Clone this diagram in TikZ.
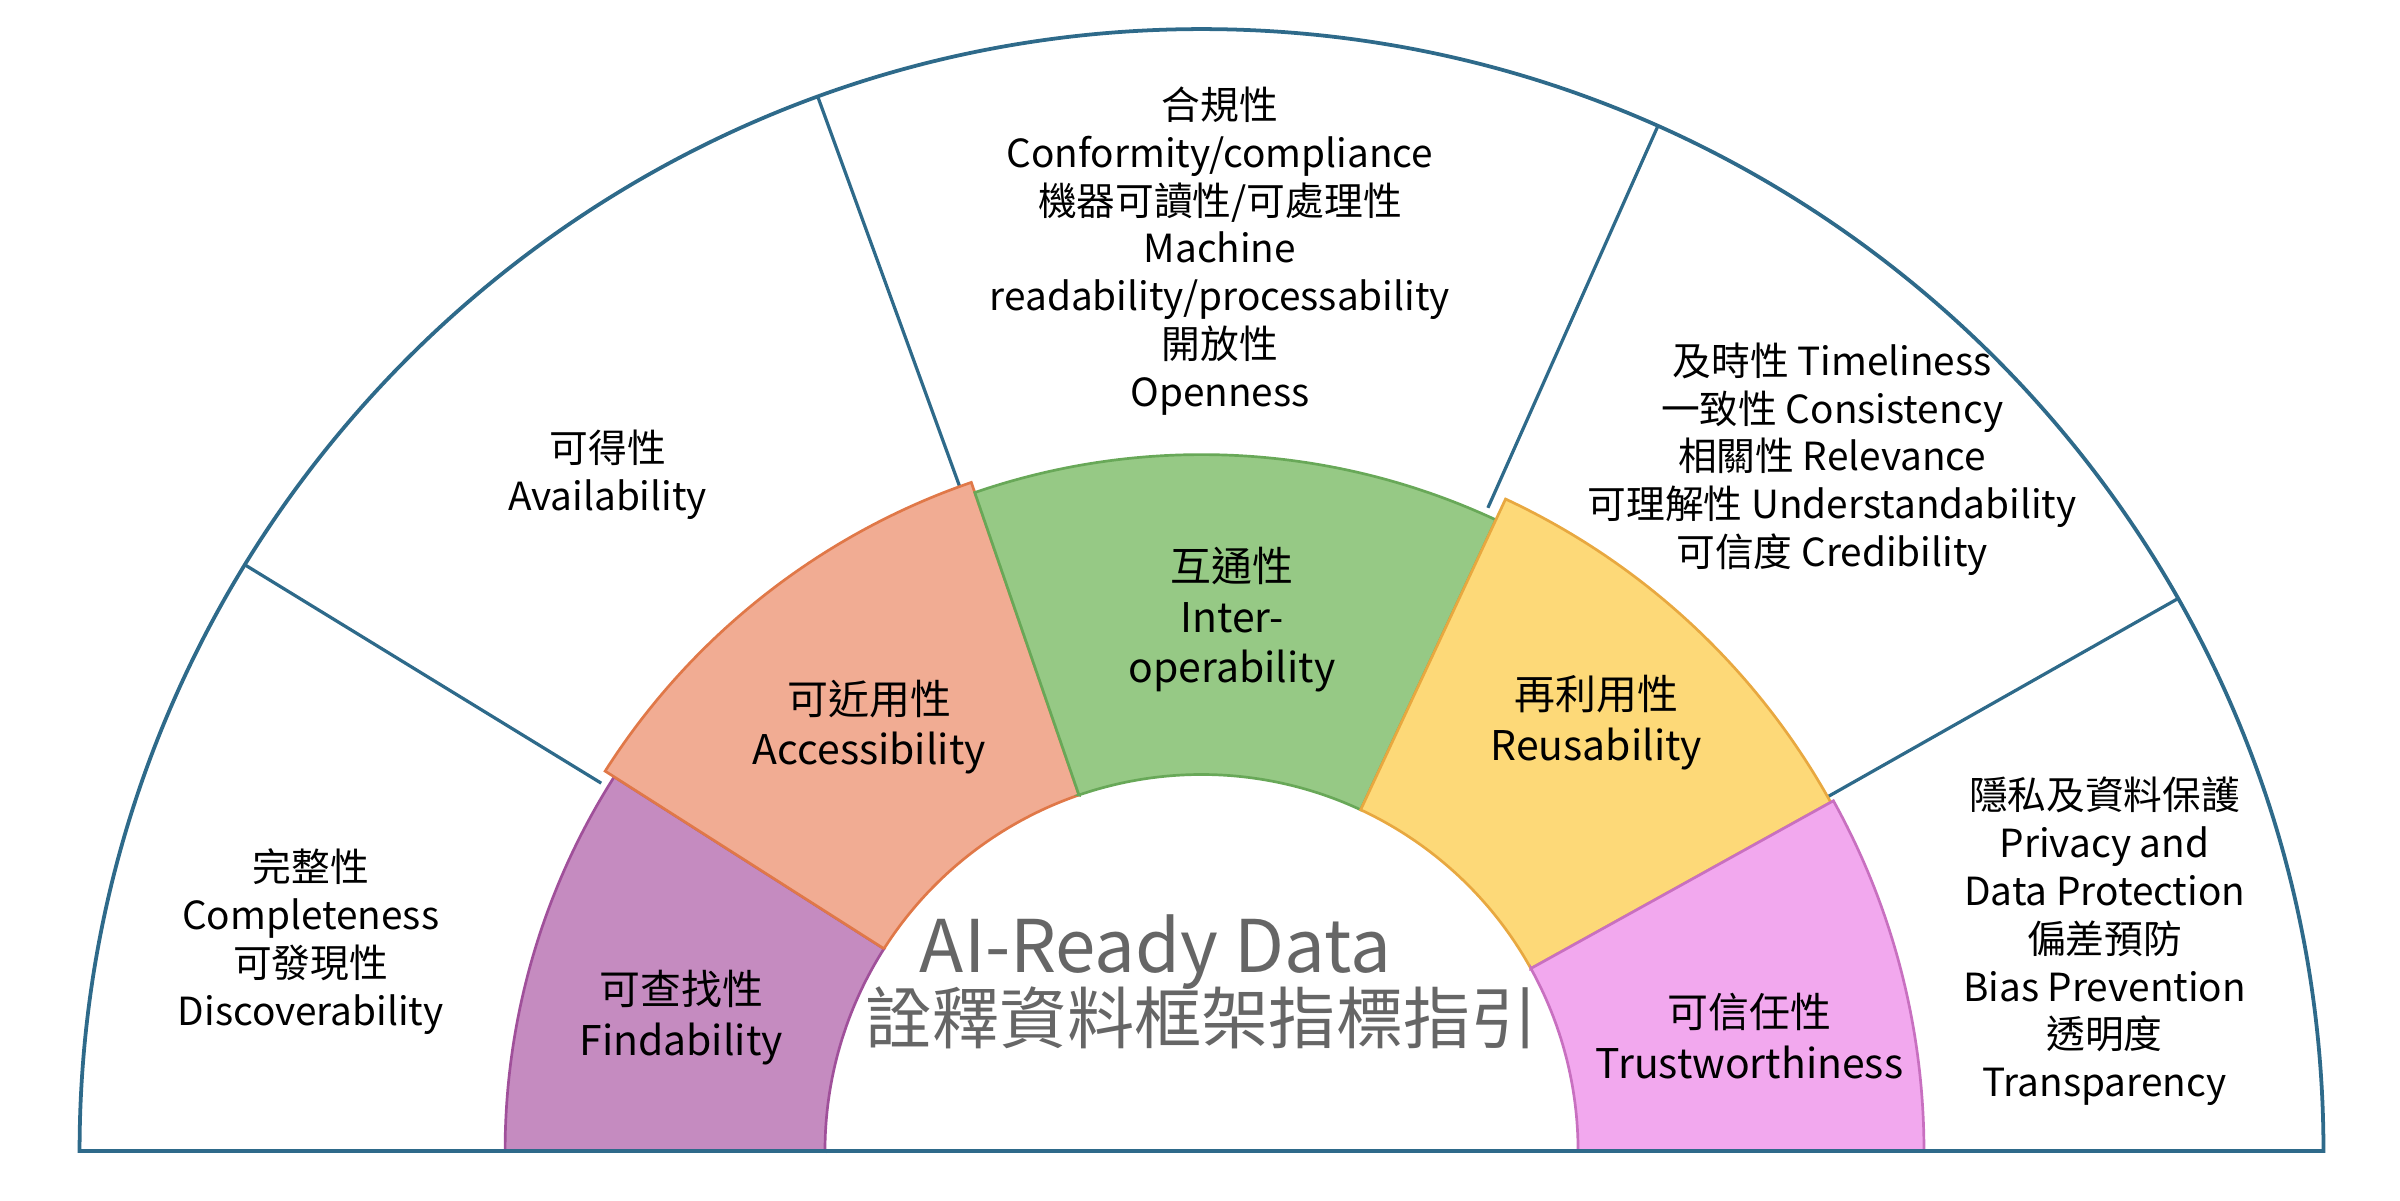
\documentclass[tikz,border=0pt]{standalone}
\usepackage{fontspec}
\setmainfont{Noto Sans CJK TC}
\usetikzlibrary{positioning}

\definecolor{rimblue}{HTML}{2E6A8A}
\definecolor{findfill}{HTML}{C58BC0}
\definecolor{findline}{HTML}{A0509A}
\definecolor{accfill}{HTML}{F1AC93}
\definecolor{accline}{HTML}{E07848}
\definecolor{interfill}{HTML}{96C985}
\definecolor{interline}{HTML}{68A858}
\definecolor{reusefill}{HTML}{FDD978}
\definecolor{reuseline}{HTML}{E8A840}
\definecolor{trustfill}{HTML}{F2A8EE}
\definecolor{trustline}{HTML}{C870C0}

\begin{document}
\begin{tikzpicture}[thick,
	                    outer text/.style={align=center,font=\fontsize{7.2pt}{8.9pt}\selectfont},
	                    ring text/.style={align=center,font=\fontsize{7.6pt}{9.4pt}\selectfont},
	                    spoke/.style={draw=rimblue,line width=0.6pt}]
		\useasboundingbox (-7.85,-0.32) rectangle (7.83,7.52);
		% Outer ring
		  \draw[rimblue,line width=0.7pt] (-7.33,0) arc (180:0:7.33) -- cycle;
		  \draw[spoke] (148.5:4.6) -- (148.5:7.33);
		  \draw[spoke] (110:4.6) -- (110:7.33);
		  \draw[spoke] (66:4.6) -- (66:7.33);
		  \draw[spoke] (29.5:4.7) -- (29.5:7.33);
		% Middle ring
		  \draw[findline,fill=findfill,line width=0.5pt] (180:2.46) -- (180:4.55) arc (180:147.5:4.55) -- (147.5:2.46) arc (147.5:180:2.46) -- cycle;
		  \draw[accline,fill=accfill,line width=0.5pt] (147.5:2.46) -- (147.5:4.62) arc (147.5:109:4.62) -- (109:2.46) arc (109:147.5:2.46) -- cycle;
		  \draw[interline,fill=interfill,line width=0.5pt] (109:2.46) -- (109:4.55) arc (109:65:4.55) -- (65:2.46) arc (65:109:2.46) -- cycle;
		  \draw[reuseline,fill=reusefill,line width=0.5pt] (65:2.46) -- (65:4.7) arc (65:29:4.7) -- (29:2.46) arc (29:65:2.46) -- cycle;
		  \draw[trustline,fill=trustfill,line width=0.5pt] (29:2.46) -- (29:4.72) arc (29:0:4.72) -- (0:2.46) arc (0:29:2.46) -- cycle;
		  \draw[rimblue,line width=0.7pt] (-7.33,0) -- (7.33,0);
		% Ring labels
		  \node (find) at (-3.4,0.87) [ring text] {可查找性\\Findability};
		  \node (acc) at (-2.17,2.77) [ring text] {可近用性\\Accessibility};
		  \node (inter) at (0.2,3.47) [ring text] {互通性\\Inter-\\operability};
		  \node (reuse) at (2.58,2.8) [ring text] {再利用性\\Reusability};
		  \node (trust) at (3.58,0.75) [ring text] {可信任性\\Trustworthiness};
		% Outer labels
		  \node (compl) at (-5.82,1.37) [outer text] {完整性\\Completeness\\可發現性\\Discoverability};
		  \node (avail) at (-3.88,4.42) [outer text] {可得性\\Availability};
		  \node (conf) at (0.12,5.88) [outer text] {合規性\\Conformity/compliance\\機器可讀性/可處理性\\Machine\\readability/processability\\開放性\\Openness};
		  \node (time) at (4.12,4.52) [outer text] {及時性 Timeliness\\一致性 Consistency\\相關性 Relevance\\可理解性 Understandability\\可信度 Credibility};
		  \node (priv) at (5.9,1.37) [outer text] {隱私及資料保護\\Privacy and\\Data Protection\\偏差預防\\Bias Prevention\\透明度\\Transparency};
		% Centre
		  \node (title) at (-0.3,1.3) [text=black!60,font=\fontsize{13.5pt}{15pt}\selectfont] {AI-Ready Data};
		  \node (subtitle) at (0,0.87) [text=black!60,font=\fontsize{12.5pt}{14pt}\selectfont] {詮釋資料框架指標指引};
\end{tikzpicture}
\end{document}
